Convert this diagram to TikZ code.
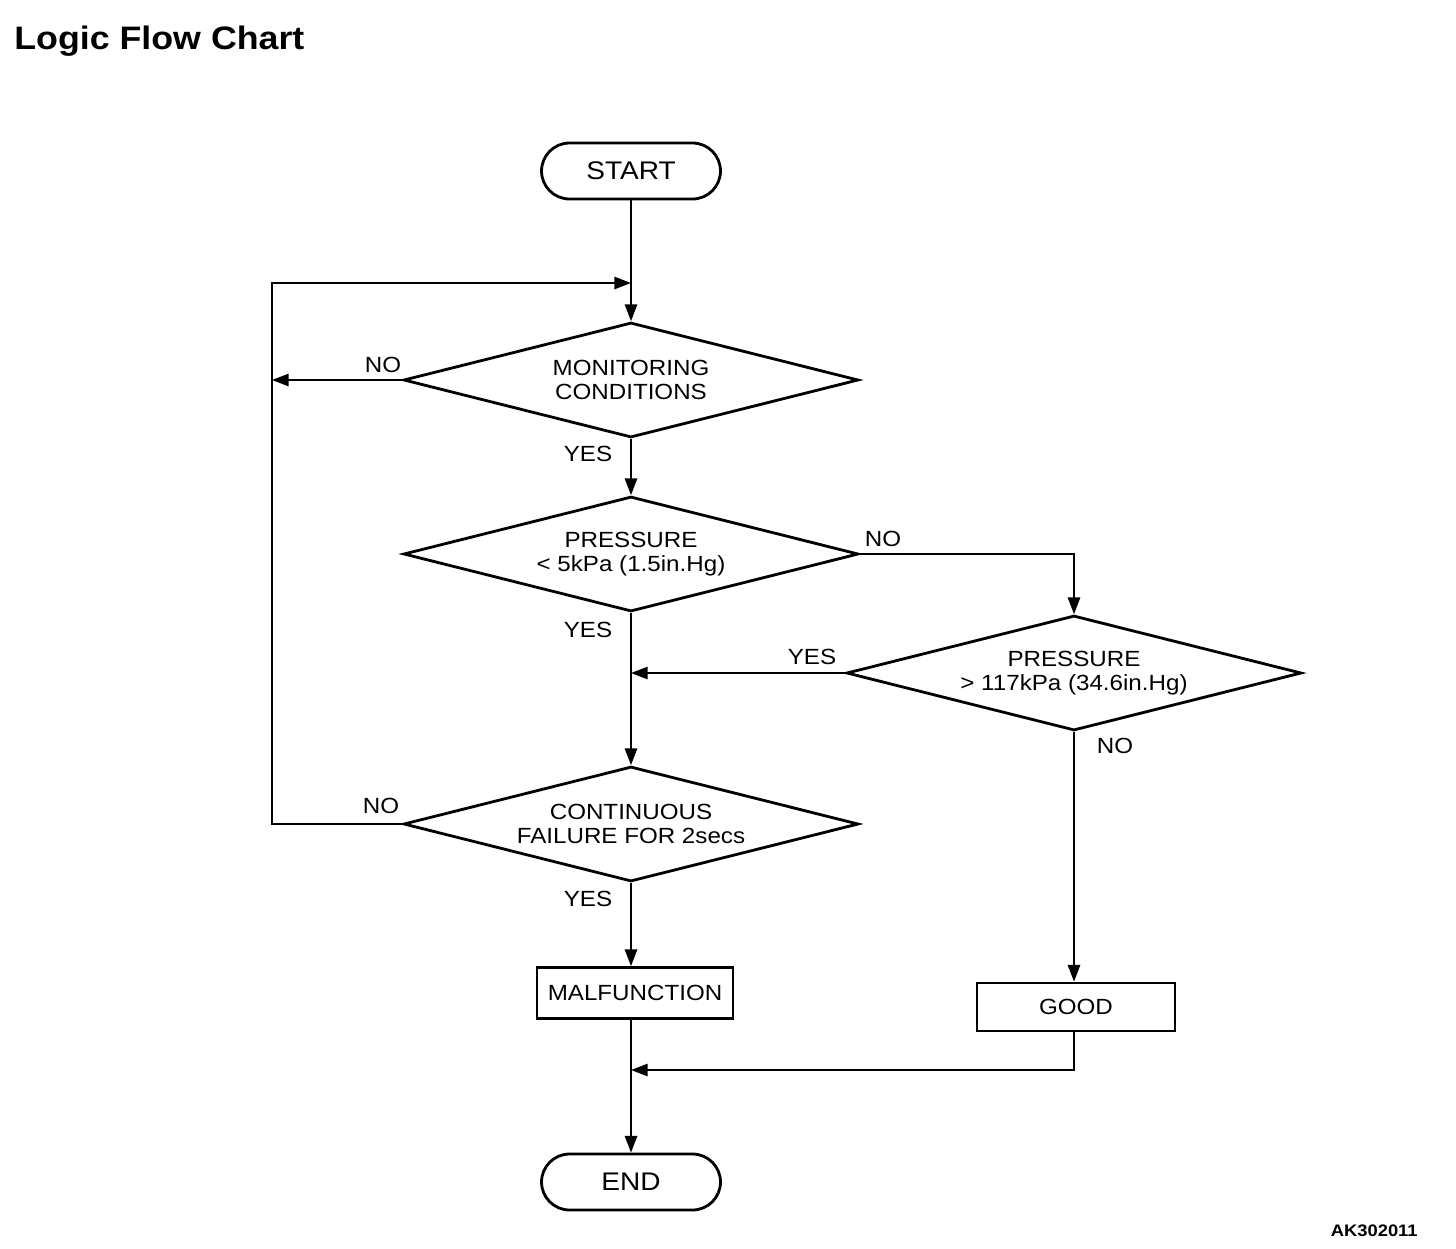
\documentclass[tikz,border=0pt]{standalone}
\usepackage{fontspec}
\setmainfont{Liberation Sans}[FakeStretch=1.1]
\usetikzlibrary{shapes.geometric,shapes.misc,arrows.meta}

\tikzset{
    chartfont/.style={font=\fontsize{12.5}{13.6}\selectfont},
    decision/.style={diamond, draw, line width=1.6pt, shape aspect=3.96,
        minimum width=9.1cm, minimum height=2.3cm, inner sep=0pt,
        align=center, chartfont},
    terminal/.style={rounded rectangle, draw, line width=1.6pt,
        minimum width=3.58cm, minimum height=1.12cm, inner sep=0pt,
        font=\fontsize{14.5}{16}\selectfont},
    outcome/.style={rectangle, draw, line width=1.6pt, minimum height=1cm,
        inner sep=0pt, chartfont},
    flow/.style={line width=1.1pt, -{Triangle[length=9.5pt,width=7pt]}},
    answer/.style={inner sep=0pt, chartfont}
}

\begin{document}
\begin{tikzpicture}[x=0.02cm, y=-0.02cm]

    % Fix the page to the size of the reference
    \useasboundingbox (0,0) rectangle (1456,1248);

    % Title and drawing number
    \node[anchor=west, inner sep=0pt, font=\fontsize{18.5}{20}\selectfont\bfseries] (title) at (14,41) {Logic Flow Chart};
    \node[anchor=east, inner sep=0pt, font=\fontsize{9.5}{11}\selectfont\bfseries] (drawno) at (1418,1231) {AK302011};

    % Start and end of the chart
    \node[terminal] (start) at (631,171) {START};
    \node[terminal] (end) at (631,1182) {END};

    % The four decisions
    \node[decision] (monitor) at (631,380) {MONITORING\\CONDITIONS};
    \node[decision] (low) at (631,554) {PRESSURE\\< 5kPa (1.5in.Hg)};
    \node[decision] (high) at (1074,673) {PRESSURE\\> 117kPa (34.6in.Hg)};
    \node[decision] (failure) at (631,824) {CONTINUOUS\\FAILURE FOR 2secs};

    % The two results
    \node[outcome, minimum width=3.92cm, minimum height=1.02cm] (malf) at (635,993) {MALFUNCTION};
    \node[outcome, minimum width=3.96cm, minimum height=0.96cm] (good) at (1076,1007) {GOOD};

    % Points where the lines join
    \coordinate (loopin) at (631,283);
    \coordinate (looptop) at (272,283);
    \coordinate (noleft) at (272,380);
    \coordinate (yesjoin) at (631,673);
    \coordinate (endjoin) at (631,1070);

    % Main line down the middle
    \draw[flow] (start.south) -- (monitor.north);
    \draw[flow] (monitor.south) -- (low.north);
    \draw[flow] (low.south) -- (failure.north);
    \draw[flow] (failure.south) -- (failure.south |- malf.north);
    \draw[flow] (end.north |- malf.south) -- (end.north);

    % Return loop on the left
    \draw[flow] (monitor.west) -- (noleft);
    \draw[flow] (failure.west) -| (looptop) -- (loopin);

    % Branch on the right
    \draw[flow] (low.east) -| (high.north);
    \draw[flow] (high.west) -- (yesjoin);
    \draw[flow] (high.south) -- (high.south |- good.north);
    \draw[flow] (high.south |- good.south) |- (endjoin);

    % Answer labels
    \node[answer] (mno) at (383,365) {NO};
    \node[answer] (myes) at (588,454) {YES};
    \node[answer] (lno) at (883,539) {NO};
    \node[answer] (lyes) at (588,630) {YES};
    \node[answer] (hyes) at (812,657) {YES};
    \node[answer] (hno) at (1115,746) {NO};
    \node[answer] (fno) at (381,806) {NO};
    \node[answer] (fyes) at (588,899) {YES};

\end{tikzpicture}
\end{document}
